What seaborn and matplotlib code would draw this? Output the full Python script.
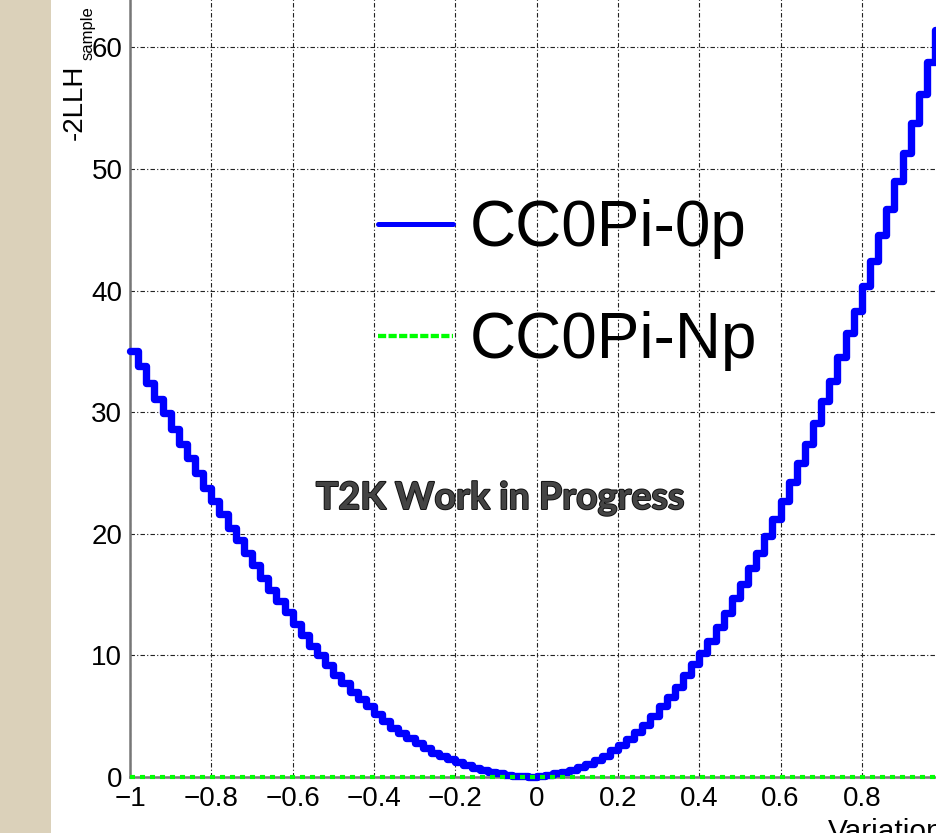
import numpy as np
import pandas as pd
import matplotlib
matplotlib.use("Agg")
import matplotlib.pyplot as plt
import seaborn as sns
from matplotlib.ticker import FixedLocator, MultipleLocator
from matplotlib.patches import Rectangle
import matplotlib.patheffects as pe

# ---------------- data ----------------
bin_low = -1.0
bin_high = 1.0
cc0pi_0p = [
    35.0, 33.8, 32.4, 31.1, 29.9, 28.6, 27.4, 26.2, 25.0, 23.8,
    22.7, 21.6, 20.5, 19.5, 18.4, 17.4, 16.4, 15.4, 14.5, 13.6,
    12.6, 11.7, 10.8, 10.0, 9.2, 8.4, 7.7, 7.0, 6.4, 5.8,
    5.2, 4.6, 4.0, 3.6, 3.2, 2.8, 2.4, 2.0, 1.7, 1.45,
    1.2, 0.96, 0.72, 0.55, 0.42, 0.3, 0.2, 0.12, 0.06, 0.02,
    0.06, 0.17, 0.3, 0.45, 0.6, 0.85, 1.1, 1.4, 1.75, 2.2,
    2.6, 3.1, 3.7, 4.3, 5.0, 5.8, 6.6, 7.4, 8.4, 9.3,
    10.2, 11.2, 12.3, 13.5, 14.7, 15.9, 17.2, 18.4, 19.8, 21.2,
    22.7, 24.3, 25.8, 27.4, 29.1, 30.9, 32.6, 34.5, 36.5, 38.3,
    40.4, 42.4, 44.6, 46.7, 49.0, 51.3, 53.8, 56.2, 58.8, 61.4,
]
cc0pi_np = [0.0] * 100
series_labels = ["CC0Pi-0p", "CC0Pi-Np"]
xtick_values = [-1.0, -0.8, -0.6, -0.4, -0.2, 0.0, 0.2, 0.4, 0.6, 0.8]
xtick_labels = ["\u22121", "\u22120.8", "\u22120.6", "\u22120.4", "\u22120.2",
                "0", "0.2", "0.4", "0.6", "0.8"]
ytick_values = [0, 10, 20, 30, 40, 50, 60]
ytick_labels = ["0", "10", "20", "30", "40", "50", "60"]
x_title = "Variation"
y_title = "-2LLH"
y_title_sub = "sample"
watermark = "T2K Work in Progress"

# ---------------- style ----------------
sns.set_theme(style="white")
plt.rcParams["font.family"] = ["Liberation Sans", "DejaVu Sans"]
plt.rcParams["text.color"] = "black"
plt.rcParams["axes.labelcolor"] = "black"
plt.rcParams["xtick.color"] = "black"
plt.rcParams["ytick.color"] = "black"

W, H = 937, 833
fig = plt.figure(figsize=(W / 100, H / 100), dpi=100, facecolor="white")

# beige slide background strip on the left
fig.add_artist(Rectangle((0, 0), 51 / W, 1, transform=fig.transFigure,
                         facecolor="#dbd1ba", edgecolor="none", zorder=0))

# axes: x from -1 (px 130) to 1 (px ~943), y 0 at px 777, top above the figure
px_per_x = 406.6
px_per_y = 12.16
ymax = 66
left = 130 / W
width = (bin_high - bin_low) * px_per_x / W
bottom = (H - 777) / H
height = ymax * px_per_y / H
ax = fig.add_axes([left, bottom, width, height])
ax.set_facecolor("none")

edges = np.linspace(bin_low, bin_high, len(cc0pi_0p) + 1)
df0 = pd.DataFrame({"x": edges, "y": cc0pi_0p + [cc0pi_0p[-1]]})
df1 = pd.DataFrame({"x": edges, "y": cc0pi_np + [cc0pi_np[-1]]})

sns.lineplot(data=df0, x="x", y="y", ax=ax, estimator=None, sort=False,
             drawstyle="steps-post", color="#0000ff", linewidth=5.3,
             label=series_labels[0], clip_on=False, zorder=3, legend=False)
sns.lineplot(data=df1, x="x", y="y", ax=ax, estimator=None, sort=False,
             drawstyle="steps-post", color="#00ff00", linewidth=3.0,
             linestyle=(0, (1.2, 1.2)), label=series_labels[1],
             clip_on=False, zorder=4, legend=False)

ax.set_xlim(bin_low, bin_high)
ax.set_ylim(0, ymax)

ax.xaxis.set_major_locator(FixedLocator(xtick_values))
ax.set_xticklabels(xtick_labels)
ax.xaxis.set_minor_locator(MultipleLocator(0.05))
ax.yaxis.set_major_locator(FixedLocator(ytick_values))
ax.set_yticklabels(ytick_labels)
ax.yaxis.set_minor_locator(MultipleLocator(2))

tick_col = "#333333"
ax.tick_params(axis="x", which="major", direction="in", length=16.5, width=1.1,
               color=tick_col, labelsize=20, pad=6.5, labelcolor="black")
ax.tick_params(axis="x", which="minor", direction="in", length=8.4, width=1.1,
               color=tick_col)
ax.tick_params(axis="y", which="major", direction="in", length=18.7, width=1.1,
               color=tick_col, labelsize=20, pad=5.5, labelcolor="black")
ax.tick_params(axis="y", which="minor", direction="in", length=8.4, width=1.1,
               color=tick_col)
ax.tick_params(top=False, right=False)

for s in ["top", "right"]:
    ax.spines[s].set_visible(False)
for s in ["left", "bottom"]:
    ax.spines[s].set_color("#777777")
    ax.spines[s].set_linewidth(1.8)

ax.set_axisbelow(True)
ax.grid(True, which="major", color="#222222", linewidth=0.8,
        linestyle=(0, (4, 2, 1, 2)))

# x title: right-aligned at the axis end, partly cut by the image edges
ax.set_xlabel(x_title, loc="right", fontsize=21.5, color="black")
ax.xaxis.set_label_coords(1.0, -0.0505)
ax.set_ylabel("")

# y title (ROOT style, top aligned, partly cut off by the image top)
fig.text(75 / W, 1 - 140 / H, y_title, rotation=90, ha="center", va="bottom",
         fontsize=20, color="black")
fig.text(88 / W, 1 - 60 / H, y_title_sub, rotation=90, ha="center",
         va="bottom", fontsize=12, color="black")

# legend
handles = ax.get_lines()[:2]
leg = ax.legend(handles, series_labels, loc="upper left",
                bbox_to_anchor=(378 / W, 1 - 199 / H),
                bbox_transform=fig.transFigure, frameon=False, fontsize=46,
                handlelength=1.17, handletextpad=0.27, labelspacing=0.82,
                borderpad=0, borderaxespad=0, labelcolor="black")
lh = leg.get_lines()
lh[0].set_linewidth(3.6)
lh[1].set_linewidth(3.1)
lh[1].set_linestyle((0, (1.9, 0.55)))

# watermark text
fig.text(500 / W, 1 - 498 / H, watermark, ha="center", va="center",
         fontsize=27, fontweight="bold", family=["Lato", "DejaVu Sans"],
         color="#444444",
         path_effects=[pe.withStroke(linewidth=1.4, foreground="#111111")])

fig.savefig("out.png", dpi=100, facecolor="white")
